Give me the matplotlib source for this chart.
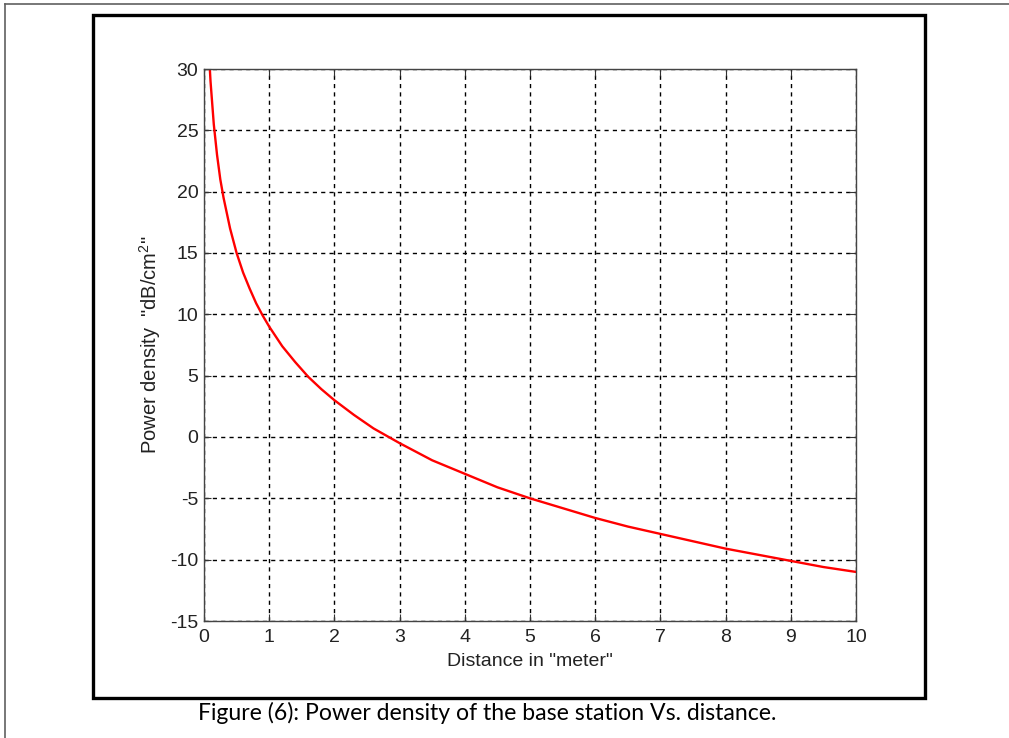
import matplotlib
matplotlib.use('Agg')
import matplotlib.pyplot as plt
from matplotlib.lines import Line2D
from matplotlib.patches import Rectangle

plt.rcParams['font.family'] = ['Liberation Sans', 'DejaVu Sans']
plt.rcParams['mathtext.fontset'] = 'custom'
plt.rcParams['mathtext.rm'] = 'Liberation Sans'
plt.rcParams['mathtext.it'] = 'Liberation Sans'
plt.rcParams['axes.unicode_minus'] = False

# distance (m) and power density (dB/cm^2)
distance = [0.08, 0.1, 0.15, 0.2, 0.25, 0.3, 0.4, 0.5, 0.6, 0.7, 0.8, 0.9, 1.0,
            1.2, 1.4, 1.6, 1.8, 2.0, 2.3, 2.6, 3.0, 3.5, 4.0, 4.5, 5.0, 5.5,
            6.0, 6.5, 7.0, 7.5, 8.0, 8.5, 9.0, 9.5, 10.0]
power = [30.9, 29.0, 25.5, 23.0, 21.0, 19.5, 17.0, 15.0, 13.4, 12.1, 10.9, 9.9, 9.0,
         7.4, 6.1, 4.9, 3.9, 3.0, 1.8, 0.7, -0.5, -1.9, -3.0, -4.1, -5.0, -5.8,
         -6.6, -7.3, -7.9, -8.5, -9.1, -9.6, -10.1, -10.6, -11.0]

xticks = list(range(0, 11))
yticks = list(range(-15, 31, 5))

W, H = 1009, 738
fig = plt.figure(figsize=(W / 100, H / 100), dpi=100)

# page frame + figure box
fig.add_artist(Line2D([5 / W, 5 / W], [0, 1 - 4 / H], color='#606060', lw=1.2))
fig.add_artist(Line2D([5 / W, 1], [1 - 4 / H, 1 - 4 / H], color='#606060', lw=1.2))
fig.add_artist(Rectangle((93 / W, 1 - 698 / H), (925 - 93) / W, (698 - 15) / H,
                         fill=False, edgecolor='black', lw=2.4))

ax = fig.add_axes([204 / W, 1 - 621 / H, (856 - 204) / W, (621 - 69) / H])
ax.plot(distance, power, color='red', lw=1.7)

ax.set_xlim(0, 10)
ax.set_ylim(-15, 30)
ax.set_xticks(xticks)
ax.set_yticks(yticks)
ax.grid(True, color='black', linestyle=(0, (3, 3)), linewidth=1.0)
ax.tick_params(direction='in', length=5, top=True, right=True,
               labelsize=14, colors='#333333', labelcolor='#222222', pad=4)
ax.tick_params(axis='x', pad=6)
for s in ax.spines.values():
    s.set_color('#444444')
    s.set_linewidth(1.0)

ax.set_xlabel('Distance in "meter"', fontsize=14, color='#222222', labelpad=5)
ax.set_ylabel('Power density  "dB/cm$^2$"', fontsize=14.5, color='#222222', labelpad=5)

fig.text(487 / W, 1 - 713 / H, 'Figure (6): Power density of the base station Vs. distance.',
         family=['Lato', 'DejaVu Sans'], fontsize=16.6, ha='center', va='center', color='black')

fig.savefig('out.png', dpi=100)
